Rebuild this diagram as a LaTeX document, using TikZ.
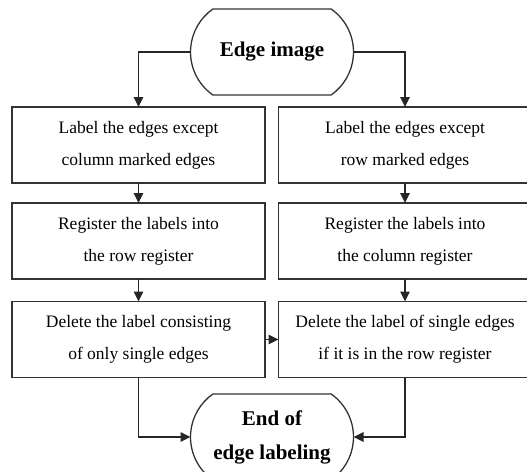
\documentclass[tikz,border=0pt]{standalone}
\usepackage{fontspec}
\setmainfont{Liberation Serif}
\usetikzlibrary{arrows.meta,shapes.misc}

\begin{document}
\begin{tikzpicture}[x=1pt,y=-1pt,
 procbox/.style={draw=black!80,line width=1.3pt,minimum width=253pt,minimum height=76pt,inner sep=0pt,outer sep=0pt,align=center,font=\fontsize{17.5}{32}\selectfont},
 terminal/.style={draw=black!80,line width=1.3pt,rounded rectangle,rounded rectangle arc length=110,minimum width=163pt,minimum height=86pt,inner sep=0pt,outer sep=0pt,align=center,font=\bfseries\fontsize{21}{34}\selectfont},
 link/.style={-{Triangle[length=10pt,width=9.5pt]},line width=1.5pt,draw=black!85}]
\useasboundingbox (0,0) rectangle (527,471);
\node[terminal] (start) at (272,52) {Edge image};
\node[procbox] (l1) at (138.5,145) {Label the edges except\\column marked edges};
\node[procbox] (r1) at (405,145) {Label the edges except\\row marked edges};
\node[procbox] (l2) at (138.5,241) {Register the labels into\\the row register};
\node[procbox] (r2) at (405,241) {Register the labels into\\the column register};
\node[procbox] (l3) at (138.5,339.5) {Delete the label consisting\\of only single edges};
\node[procbox] (r3) at (405,339.5) {Delete the label of single edges\\if it is in the row register};
\node[terminal] (stop) at (272,437) {End of\\edge labeling};
\draw[link] (start.west) -| (l1.north);
\draw[link] (start.east) -| (r1.north);
\draw[link] (l1) -- (l2);
\draw[link] (r1) -- (r2);
\draw[link] (l2) -- (l3);
\draw[link] (r2) -- (r3);
\draw[link] (l3) -- (r3);
\draw[link] (l3.south) |- (stop.west);
\draw[link] (r3.south) |- (stop.east);
\end{tikzpicture}
\end{document}
